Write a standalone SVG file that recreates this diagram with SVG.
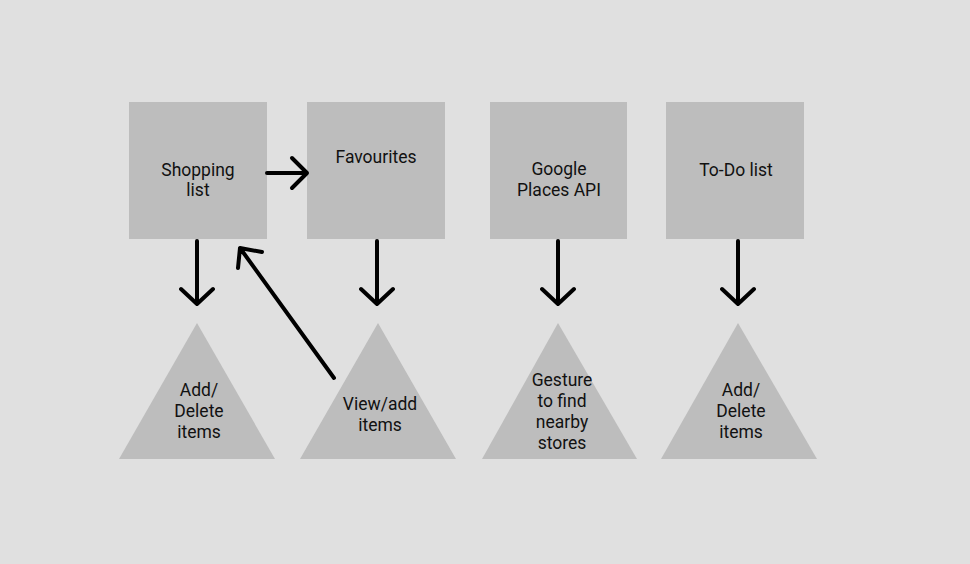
<svg xmlns="http://www.w3.org/2000/svg" width="970" height="564" viewBox="0 0 970 564">
<defs>
<style>
.box{fill:#bdbdbd}
.t{font-family:Roboto,"Liberation Sans",sans-serif;font-size:17.5px;fill:#111;text-anchor:middle}
.c{fill:none;stroke:#000;stroke-width:4;stroke-linecap:round;stroke-linejoin:round}
</style>
</defs>
<rect width="970" height="564" fill="#e0e0e0"/>
<g id="shopping"><rect class="box" x="129" y="102" width="138" height="137"/><text class="t" x="198" y="176">Shopping</text><text class="t" x="198" y="196">list</text></g>
<g id="favourites"><rect class="box" x="307" y="102" width="138" height="137"/><text class="t" x="376" y="163">Favourites</text></g>
<g id="places"><rect class="box" x="490" y="102" width="137" height="137"/><text class="t" x="559" y="175">Google</text><text class="t" x="559" y="196">Places API</text></g>
<g id="todo"><rect class="box" x="666" y="102" width="138" height="137"/><text class="t" x="736" y="176">To-Do list</text></g>
<g id="add1"><polygon class="box" points="197,323 275,459 119,459"/><text class="t" x="199" y="396">Add/</text><text class="t" x="199" y="417">Delete</text><text class="t" x="199" y="438">items</text></g>
<g id="viewadd"><polygon class="box" points="378,323 456,459 300,459"/><text class="t" x="380" y="410">View/add</text><text class="t" x="380" y="431">items</text></g>
<g id="gesture"><polygon class="box" points="558,323 637,459 482,459"/><text class="t" x="562" y="386">Gesture</text><text class="t" x="562" y="407">to find</text><text class="t" x="562" y="428">nearby</text><text class="t" x="562" y="449">stores</text></g>
<g id="add2"><polygon class="box" points="738,323 817,459 661,459"/><text class="t" x="741" y="396">Add/</text><text class="t" x="741" y="417">Delete</text><text class="t" x="741" y="438">items</text></g>
<g id="connectors">
<path class="c" d="M267,173 H307 M292,158 L307,173 L292,188"/>
<path class="c" d="M197,241 V304 M181,289 L197,304 L213,289"/>
<path class="c" d="M377,241 V304 M361,289 L377,304 L393,289"/>
<path class="c" d="M558,241 V304 M542,289 L558,304 L574,289"/>
<path class="c" d="M738,241 V304 M722,289 L738,304 L754,289"/>
<path class="c" d="M334,378 L240,248 M262,252 L240,248 L238,268"/>
</g>
</svg>
